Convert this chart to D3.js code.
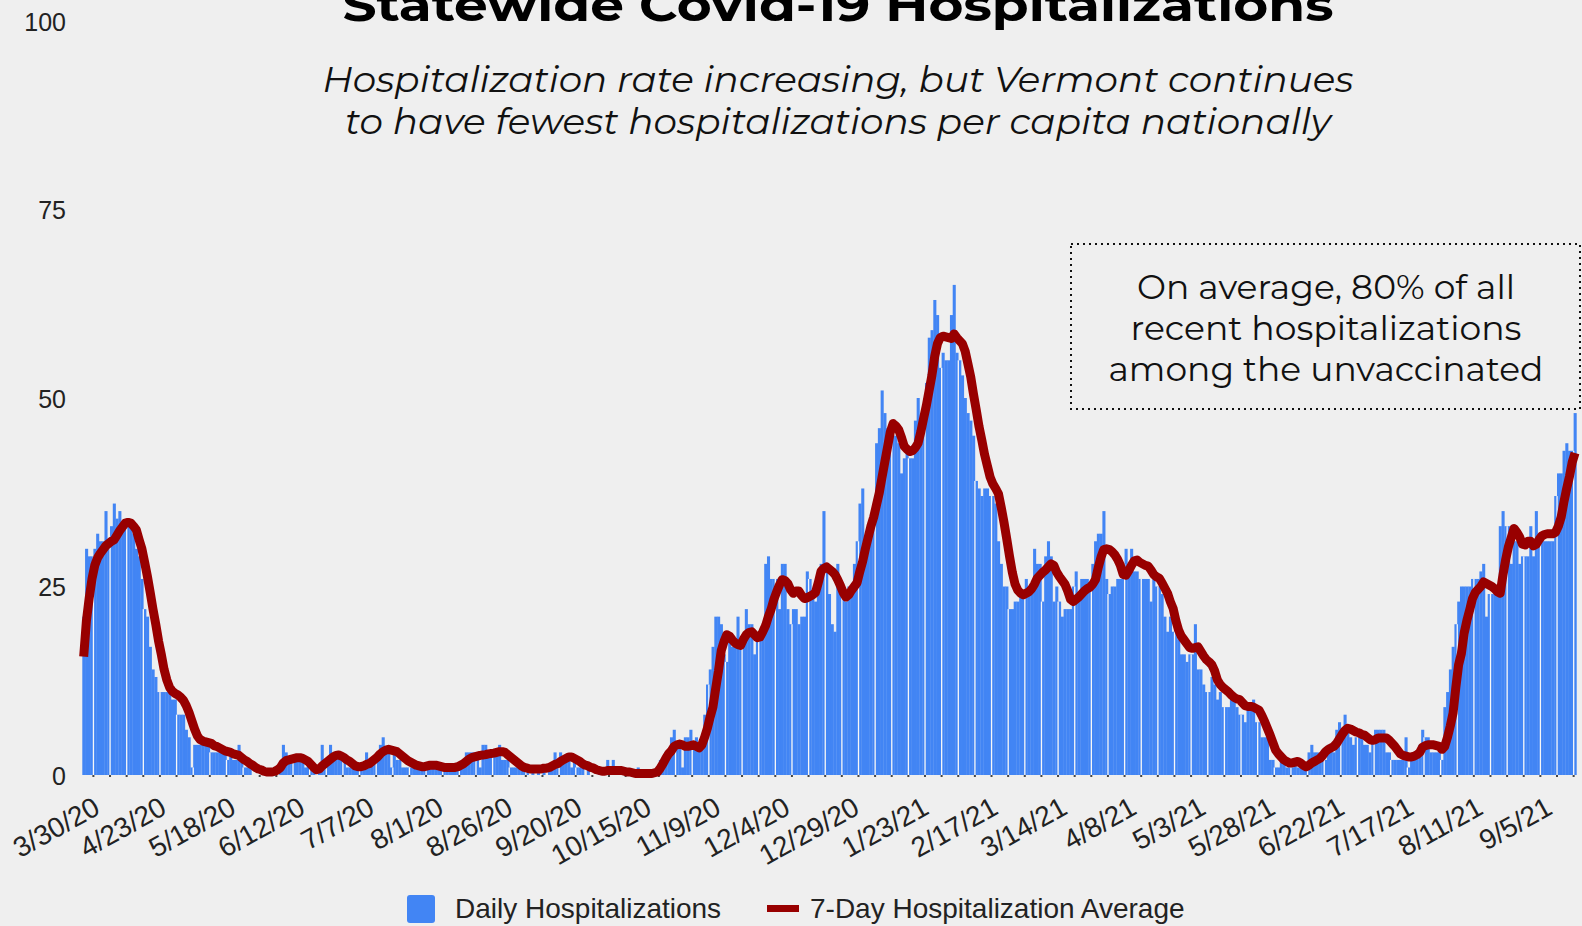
<!DOCTYPE html>
<html>
<head>
<meta charset="utf-8">
<script src="https://cdn.jsdelivr.net/npm/d3@7"></script>
<style>
  html, body { margin: 0; padding: 0; background: #efefef; }
  svg { display: block; }
</style>
</head>
<body>
<div id="chart"></div>
<script>
// daily hospitalizations, one value per day from 3/30/20
const dailyHosp = [
  21,30,29,29,30,32,31,31,35,31, 33,36,34,35,33,33,33,33,32,30,
  29,26,22,21,17,14,13,11,11,11, 11,11,10,10,8,8,8,6,5,1,
  4,4,4,4,4,4,3,3,3,3, 3,3,2,3,2,2,4,2,1,1,
  1,0,0,0,0,0,0,0,0,0, 0,1,4,3,2,2,2,2,2,2,
  1,2,1,1,0,1,4,2,2,4, 2,2,3,2,2,1,1,1,1,1,
  1,1,3,2,2,2,3,4,5,3, 3,1,3,2,2,1,1,1,1,1,
  1,1,1,1,1,1,1,1,1,1, 1,1,1,1,1,1,1,1,3,3,
  3,3,3,1,4,4,3,3,3,3, 4,2,2,2,1,1,1,1,1,1,
  1,0,1,0,1,0,1,0,1,1, 3,2,3,2,2,2,1,2,1,1,
  1,0,1,0,0,0,1,0,1,2, 1,2,1,1,0,1,0,0,0,0,
  1,0,0,0,0,0,0,0,2,2, 3,3,5,6,4,4,1,5,5,6,
  4,5,4,4,8,12,14,17,21,21, 20,16,15,18,17,17,21,17,17,22,
  20,20,16,18,18,19,28,29,26,26, 26,22,28,28,22,20,22,22,20,21,
  21,27,26,24,23,24,28,35,28,24, 20,19,28,25,24,23,25,25,28,31,
  36,38,31,30,33,35,44,46,51,48, 46,46,45,45,44,40,42,43,42,42,
  47,50,46,46,52,58,59,63,61,54, 56,55,55,61,65,56,55,53,50,48,
  47,45,39,38,37,38,38,37,37,36, 31,28,25,25,22,22,23,23,24,24,
  26,25,25,30,28,28,23,29,31,29, 23,25,23,21,22,22,22,25,27,24,
  26,26,26,25,28,31,32,32,35,26, 24,25,25,26,26,28,30,27,30,27,
  27,26,26,26,26,23,26,25,25,24, 21,19,21,19,19,18,16,16,15,16,
  16,20,14,14,12,11,11,13,12,10, 11,9,9,9,10,10,9,8,8,7,
  9,9,10,7,7,5,5,5,2,2, 1,1,2,2,1,1,1,2,1,1,
  1,1,3,4,3,3,2,2,2,4, 4,3,6,7,6,8,6,5,4,5,
  5,5,4,4,3,5,6,6,6,6, 3,3,2,2,2,2,2,5,1,2,
  2,3,4,6,5,5,3,3,3,3, 2,9,11,14,17,20,23,25,25,25,
  25,26,26,26,27,28,21,24,24,24, 24,33,35,33,33,28,31,31,28,29,
  29,29,33,29,35,31,31,31,31,31, 31,37,40,40,43,44,43,43,48
];

// 7-day hospitalization average, same days
const avgHosp = [
  15.7,20.5,23.5,26,27.8,28.8,29.4,29.9,30.4,30.7, 31,31.2,31.8,32.4,32.9,33.4,33.5,33.4,33,32.5,
  31.2,30,28.2,26.3,24.2,22,20,17.8,16,14, 12.6,11.6,11.1,10.8,10.6,10.3,9.9,9.2,8.3,7.2,
  6.1,5.2,4.7,4.5,4.4,4.3,4.2,3.9,3.8,3.6, 3.4,3.2,3.1,3,2.8,2.7,2.6,2.3,2,1.8,
  1.5,1.3,1,0.8,0.7,0.5,0.4,0.4,0.4,0.5, 0.7,1,1.6,1.9,2,2.1,2.2,2.3,2.3,2.2,
  2,1.8,1.4,1,0.7,0.8,1.2,1.5,1.8,2.1, 2.4,2.6,2.65,2.5,2.3,2,1.8,1.5,1.2,1.1,
  1.1,1.2,1.4,1.5,1.8,2.1,2.4,2.8,3.1,3.3, 3.4,3.3,3.2,3.1,2.8,2.5,2.2,1.9,1.7,1.5,
  1.3,1.2,1.1,1.1,1.2,1.3,1.3,1.3,1.2,1.1, 1,1,1,1,1,1.1,1.3,1.5,1.8,2.1,
  2.3,2.4,2.5,2.6,2.65,2.7,2.8,2.85,2.9,3, 3.1,3.1,3,2.7,2.4,2.1,1.8,1.5,1.2,1,
  0.9,0.8,0.8,0.8,0.8,0.8,0.9,0.9,1,1.2, 1.4,1.5,1.8,2,2.2,2.4,2.4,2.2,2,1.8,
  1.5,1.3,1.2,1,0.9,0.7,0.6,0.5,0.5,0.6, 0.6,0.6,0.6,0.6,0.6,0.5,0.4,0.4,0.3,0.2,
  0.2,0.2,0.2,0.2,0.2,0.2,0.3,0.4,0.9,1.5, 2.2,2.8,3.2,3.8,4,4.1,4,3.8,3.8,3.9,
  4,3.8,3.6,4,5,6.2,7.7,9,11.5,13.8, 16.5,17.7,18.6,18.4,17.9,17.5,17.3,17.2,18,18.6,
  18.9,19,18.6,18.2,18.3,19,19.8,21,22,23.3, 24.3,25.2,25.9,25.8,25.4,24.6,24.1,24.4,24.4,23.8,
  23.4,23.5,23.7,23.9,24.2,25.5,27,27.4,27.6,27.3, 27,26.6,25.9,25.1,24.2,23.6,23.9,24.5,25,25.5,
  27,28.3,30,31.5,33,34.2,35.8,37.4,39.5,41.5, 43.5,45.5,46.6,46.3,45.8,44.8,43.6,43.2,42.9,43,
  43.4,44,45.5,47.3,49,51,53,55.5,57.2,58, 58.2,58.1,58,57.9,58.5,58,57.6,57.2,56.2,54.5,
  52.8,50.5,48.4,46.2,44.4,42.5,41,39.5,38.6,38, 37.3,35.5,33.5,31.3,29,26.9,25.3,24.5,24.1,23.9,
  24.1,24.3,24.7,25.3,26.1,26.5,26.9,27.2,27.6,28, 27.8,26.9,26.3,25.8,25.3,24.4,23.3,23,23.3,23.6,
  24,24.4,24.7,24.9,25.3,25.9,27.5,28.9,29.9,30, 29.9,29.6,29.2,28.6,27.8,26.6,26.5,27.1,27.8,28.4,
  28.5,28.2,28,27.8,27.7,27.2,26.6,26.3,26.1,25.5, 24.8,24.1,23,22.1,20.5,19.2,18.4,17.9,17.4,16.9,
  16.8,16.9,17,16.4,15.8,15.3,15,14.6,13.8,12.6, 12,11.6,11.3,11,10.6,10.3,10.1,10,9.6,9.2,
  9.1,9.1,9,8.8,8.6,7.9,7.1,6.2,5.3,4.3, 3.3,2.8,2.4,2,1.8,1.6,1.6,1.7,1.8,1.6,
  1.3,1.1,1.3,1.6,1.8,2,2.2,2.6,3.1,3.4, 3.6,3.8,4.2,4.8,5.4,5.9,6.2,6.1,5.9,5.7,
  5.6,5.4,5.3,5,4.7,4.6,4.7,4.9,4.9,4.9, 4.9,4.6,4.2,3.8,3.3,2.8,2.6,2.5,2.4,2.4,
  2.5,2.7,3,3.7,3.9,4,4,4,3.9,3.8, 3.4,3.8,5,6.5,8.2,11.6,14.6,16.1,18.8,20.5,
  21.9,23.4,24.2,24.6,25,25.6,25.4,25.2,25,24.7, 24.3,24.1,26.5,28.6,30.3,31.5,32.7,32.2,31.6,30.6,
  30.5,31,31,30.4,30.6,31.2,31.7,31.9,32,32, 32,32.2,33,34.2,36.2,38,39.6,41.5,42.7
];

const tickLabels = ["3/30/20","4/23/20","5/18/20","6/12/20","7/7/20","8/1/20","8/26/20",
  "9/20/20","10/15/20","11/9/20","12/4/20","12/29/20","1/23/21","2/17/21","3/14/21",
  "4/8/21","5/3/21","5/28/21","6/22/21","7/17/21","8/11/21","9/5/21"];
const tickIdx = [0,24,49,74,99,124,149,174,199,224,249,274,299,324,349,374,399,424,449,474,499,524];
const yTicks = [0,25,50,75,100];

const subtitleLines = ["Hospitalization rate increasing, but Vermont continues",
  "to have fewest hospitalizations per capita nationally"];
const noteLines = ["On average, 80% of all", "recent hospitalizations", "among the unvaccinated"];

var W = 1582, H = 926,
    plotLeft = 82.3, plotRight = 1576.4,
    yBase = 775, yTop = 21;

var barColor = "#4285f4", lineColor = "#980000";

var svg = d3.select("#chart").append("svg")
    .attr("width", W).attr("height", H)
    .style("font-family", "'Liberation Sans', Arial, sans-serif");

svg.append("rect").attr("width", W).attr("height", H).attr("fill", "#efefef");

var x = d3.scaleBand()
    .domain(d3.range(dailyHosp.length))
    .range([plotLeft, plotRight])
    .padding(0);

var y = d3.scaleLinear()
    .domain([0, 100])
    .range([yBase, yTop]);

// bars
svg.append("g").selectAll("rect")
  .data(dailyHosp)
  .enter().append("rect")
    .attr("x", function(d, i) { return x(i); })
    .attr("y", function(d) { return y(d); })
    .attr("width", x.bandwidth() + 0.3)
    .attr("height", function(d) { return yBase - y(d); })
    .attr("fill", barColor);

// thin light separators that show up between the bars every 6 days
var sepIdx = d3.range(4, dailyHosp.length, 6);
svg.append("g").selectAll("rect")
  .data(sepIdx)
  .enter().append("rect")
    .attr("x", function(i) { return x(i) - 0.6; })
    .attr("y", function(i) { return y(Math.min(dailyHosp[i], dailyHosp[i - 1])); })
    .attr("width", 1.3)
    .attr("height", function(i) { return yBase - y(Math.min(dailyHosp[i], dailyHosp[i - 1])); })
    .attr("fill", "#f7f7f7");

// small tick marks along the baseline
svg.append("g").selectAll("rect")
  .data(sepIdx)
  .enter().append("rect")
    .attr("x", function(i) { return x(i) - 1; })
    .attr("y", yBase)
    .attr("width", 2)
    .attr("height", 2)
    .attr("fill", "#444");

// 7-day average
var line = d3.line()
    .x(function(d, i) { return x(i) + x.bandwidth() / 2; })
    .y(function(d) { return y(d); });

svg.append("path")
    .datum(avgHosp)
    .attr("d", line)
    .attr("fill", "none")
    .attr("stroke", lineColor)
    .attr("stroke-width", 9)
    .attr("stroke-linejoin", "round");

// y axis
var yAxis = svg.append("g")
    .attr("transform", "translate(66,0)")
    .call(d3.axisLeft(y).tickValues(yTicks).tickSize(0).tickPadding(0));
yAxis.select(".domain").remove();
yAxis.selectAll("text")
    .attr("font-family", "'Liberation Sans', Arial, sans-serif")
    .style("font-size", "25px")
    .attr("fill", "#222")
    .attr("dy", "0.36em");

// x axis, slanted labels
var xAxis = svg.append("g")
    .attr("transform", "translate(0," + yBase + ")")
    .call(d3.axisBottom(x)
        .tickValues(tickIdx)
        .tickSize(0)
        .tickFormat(function(d) { return tickLabels[tickIdx.indexOf(d)]; }));
xAxis.select(".domain").remove();
xAxis.selectAll("text")
    .attr("font-family", "'Liberation Sans', Arial, sans-serif")
    .style("font-size", "28px")
    .attr("fill", "#222")
    .attr("y", 0).attr("dy", 0)
    .style("text-anchor", "end")
    .attr("transform", "translate(18,38)rotate(-29)");

// title, partly cut by the top edge
svg.append("text")
    .text("Statewide Covid-19 Hospitalizations")
    .attr("x", 838).attr("y", 21)
    .attr("text-anchor", "middle")
    .attr("textLength", 991).attr("lengthAdjust", "spacingAndGlyphs")
    .style("font-family", "Montserrat, 'Open Sans', sans-serif")
    .style("font-weight", "bold")
    .style("font-size", "46px")
    .attr("fill", "#000");

var subLens = [1031, 986];
svg.append("g").selectAll("text")
  .data(subtitleLines)
  .enter().append("text")
    .text(function(d) { return d; })
    .attr("x", 838)
    .attr("y", function(d, i) { return 92 + i * 42; })
    .attr("text-anchor", "middle")
    .attr("textLength", function(d, i) { return subLens[i]; })
    .attr("lengthAdjust", "spacingAndGlyphs")
    .style("font-family", "Montserrat, 'Open Sans', sans-serif")
    .style("font-style", "italic")
    .style("font-size", "35px")
    .attr("fill", "#111");

// annotation box
svg.append("rect")
    .attr("x", 1071).attr("y", 244)
    .attr("width", 509).attr("height", 165)
    .attr("fill", "none")
    .attr("stroke", "#111")
    .attr("stroke-width", 2)
    .attr("stroke-dasharray", "2,4");

var noteLens = [378, 391, 435];
svg.append("g").selectAll("text")
  .data(noteLines)
  .enter().append("text")
    .text(function(d) { return d; })
    .attr("x", 1326)
    .attr("y", function(d, i) { return 299 + i * 41; })
    .attr("text-anchor", "middle")
    .attr("textLength", function(d, i) { return noteLens[i]; })
    .attr("lengthAdjust", "spacingAndGlyphs")
    .style("font-family", "Montserrat, 'Open Sans', sans-serif")
    .style("font-size", "33px")
    .attr("fill", "#111");

// legend
var legend = svg.append("g");
legend.append("rect")
    .attr("x", 407).attr("y", 895).attr("width", 28).attr("height", 28)
    .attr("rx", 3).attr("fill", barColor);
legend.append("text")
    .text("Daily Hospitalizations")
    .attr("x", 455).attr("y", 918)
    .style("font-size", "28px").attr("fill", "#222");
legend.append("rect")
    .attr("x", 767).attr("y", 905).attr("width", 32).attr("height", 7)
    .attr("fill", lineColor);
legend.append("text")
    .text("7-Day Hospitalization Average")
    .attr("x", 810).attr("y", 918)
    .style("font-size", "28px").attr("fill", "#222");
</script>
</body>
</html>
